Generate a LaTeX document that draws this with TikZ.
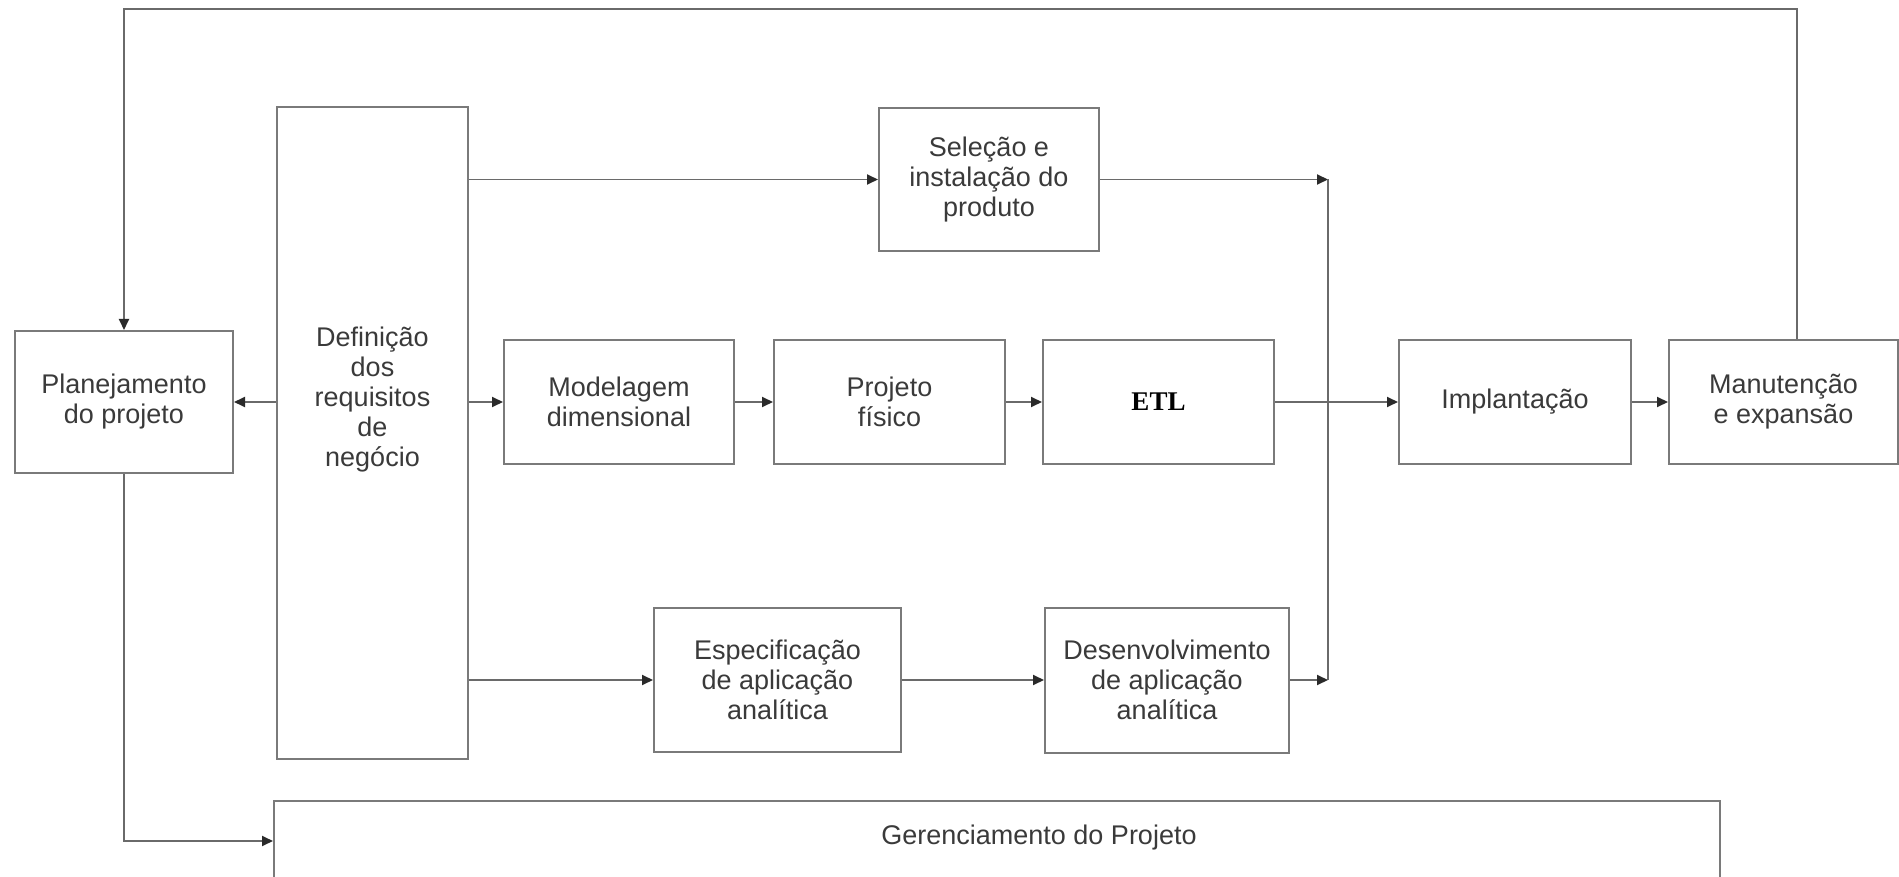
\documentclass[tikz,border=0pt]{standalone}
\usepackage{fontspec}
\setmainfont{Liberation Sans}
\newfontfamily\etlfont{Liberation Serif}
\usetikzlibrary{arrows.meta}
\definecolor{boxc}{HTML}{7A7A7A}
\definecolor{linec}{HTML}{6A6A6A}
\definecolor{txtc}{HTML}{3A3A3A}
\definecolor{tipc}{HTML}{2A2A2A}
\begin{document}
\begin{tikzpicture}[x=1pt,y=-1pt,
  box/.style={draw=boxc, line width=2pt, inner sep=0pt, align=center,
    text=txtc, font=\fontsize{27}{30}\selectfont},
  lbl/.style={inner sep=0pt, align=center, text=txtc, font=\fontsize{27}{30}\selectfont},
  wire/.style={draw=linec, line width=1.8pt},
  conn/.style={wire, -{Triangle[length=11pt,width=10pt,color=tipc]}}]
\useasboundingbox (0,0) rectangle (1899,877);
% boxes
\node[box, minimum width=218pt, minimum height=142pt] (plan) at (124,402) {Planejamento\\do projeto};
\node[box, minimum width=191pt, minimum height=652pt] (def) at (372.5,433) {};
\node[lbl] (deftext) at (372.5,400) {Defini\c{c}\~ao\\dos\\requisitos\\de\\neg\'ocio};
\node[box, minimum width=220pt, minimum height=143pt] (sel) at (989,179.5) {Sele\c{c}\~ao e\\instala\c{c}\~ao do\\produto};
\node[box, minimum width=230pt, minimum height=123pt] (mod) at (619,402) {Modelagem\\dimensional};
\node[box, minimum width=231pt, minimum height=124pt] (proj) at (889.5,402) {Projeto\\f\'isico};
\node[box, minimum width=231pt, minimum height=124pt, font=\etlfont\bfseries\fontsize{27}{30}\selectfont, text=black] (etl) at (1158.5,402) {ETL};
\node[box, minimum width=232pt, minimum height=123pt] (impl) at (1515,402) {Implanta\c{c}\~ao};
\node[box, minimum width=229pt, minimum height=123pt] (man) at (1783.5,402) {Manuten\c{c}\~ao\\e expans\~ao};
\node[box, minimum width=247pt, minimum height=144pt] (esp) at (777.5,680) {Especifica\c{c}\~ao\\de aplica\c{c}\~ao\\anal\'itica};
\node[box, minimum width=244pt, minimum height=145pt] (des) at (1167,680) {Desenvolvimento\\de aplica\c{c}\~ao\\anal\'itica};
\node[box, minimum width=1446pt, minimum height=80pt] (ger) at (997,841) {};
\node[lbl] (gertext) at (1039,838) {Gerenciamento do Projeto};
% junction coordinates
\coordinate (jt) at (1328,179.5);
\coordinate (jb) at (1328,680);
\coordinate (topR) at (1797,9);
% connectors
\draw[conn] (def.west |- plan.east) -- (plan.east);
\draw[conn] (def.east |- sel.west) -- (sel.west);
\draw[conn] (def.east |- mod.west) -- (mod.west);
\draw[conn] (def.east |- esp.west) -- (esp.west);
\draw[conn] (mod.east) -- (proj.west);
\draw[conn] (proj.east) -- (etl.west);
\draw[conn] (esp.east) -- (des.west);
\draw[conn] (sel.east) -- (jt);
\draw[wire] (jt) -- (jb);
\draw[conn] (des.east) -- (jb);
\draw[conn] (etl.east) -- (impl.west);
\draw[conn] (impl.east) -- (man.west);
\draw[conn] (man.north -| topR) -- (topR) -| (plan.north);
\draw[conn] (plan.south) |- (ger.west);
\end{tikzpicture}
\end{document}
